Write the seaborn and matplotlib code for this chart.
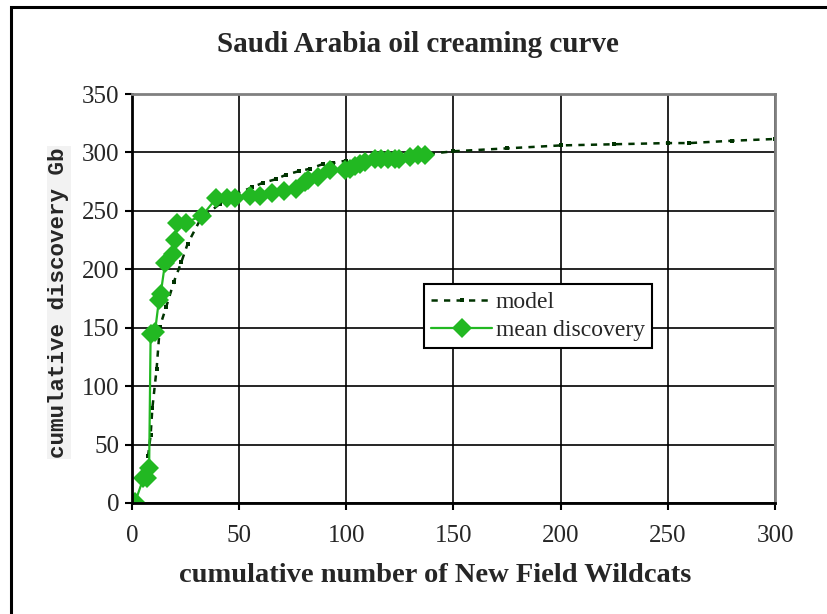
import numpy as np
import pandas as pd
import matplotlib
matplotlib.use("Agg")
import matplotlib.pyplot as plt
from matplotlib.patches import Rectangle
import seaborn as sns

# mean discovery (cumulative wildcats, cumulative Gb)
mean_x = [1.5, 5.3, 7.1, 8.0, 8.7, 10.7, 12.6, 13.4, 15.4, 19.0, 20.0, 21.1, 25.2,
          32.8, 39.4, 44.1, 48.0, 55.0, 59.6, 65.5, 70.8, 76.7, 80.6, 82.1, 86.8,
          92.5, 99.2, 101.5, 103.9, 106.2, 108.5, 113.2, 116.3, 119.4, 122.5,
          124.8, 129.5, 133.3, 136.5]
mean_y = [1, 21, 21, 30, 145, 146, 174, 179, 205, 213, 225, 240, 240,
          246, 261, 261, 261, 263, 263, 265, 267, 269, 275, 276, 279,
          285, 285, 286, 288, 290, 292, 294, 294, 294, 294,
          294, 296, 298, 298]

# model curve
model_x = [7.5, 8.7, 9.5, 11.5, 13, 16, 19.5, 23, 26, 32, 41, 49, 56, 61, 67, 72,
           78, 83, 89, 94, 100, 110, 120, 130, 140, 150, 175, 200, 225, 250, 260,
           280, 300]
model_y = [40, 58, 81, 115, 151, 168, 189, 206, 222, 243, 256, 265, 270, 274, 277, 281,
           284, 286, 290, 291, 293, 295, 297, 298, 299, 301, 303.5, 306, 307, 308, 308,
           310, 311.5]

x_ticks = [0, 50, 100, 150, 200, 250, 300]
y_ticks = [0, 50, 100, 150, 200, 250, 300, 350]

sns.set_style("white")
plt.rcParams["font.family"] = ["Liberation Serif", "DejaVu Serif"]

fig = plt.figure(figsize=(8.28, 6.14), dpi=100)
ax = fig.add_axes([0.1594, 0.1808, 0.7766, 0.6661])

model_df = pd.DataFrame({"x": model_x, "y": model_y})
mean_df = pd.DataFrame({"x": mean_x, "y": mean_y})

sns.lineplot(data=model_df, x="x", y="y", ax=ax, sort=False, estimator=None,
             color="#003300", lw=1.8, linestyle=(0, (2.5, 2.5)),
             marker="s", markersize=3, markeredgewidth=0, label="model")
sns.lineplot(data=mean_df, x="x", y="y", ax=ax, sort=False, estimator=None,
             color="#22b822", lw=1.6, marker="D", markersize=10,
             markeredgewidth=0, label="mean discovery")

ax.set_xlim(0, 300)
ax.set_ylim(0, 350)
ax.set_xticks(x_ticks)
ax.set_yticks(y_ticks)
ax.grid(True, color="black", lw=1.2)
ax.set_axisbelow(True)
for s in ["left", "bottom"]:
    ax.spines[s].set_color("black")
    ax.spines[s].set_linewidth(2)
for s in ["top", "right"]:
    ax.spines[s].set_color("#808080")
    ax.spines[s].set_linewidth(2)
ax.tick_params(axis="both", direction="out", length=5, width=1.5, color="black",
               labelsize=18, pad=4, left=True, bottom=True)
ax.tick_params(axis="x", pad=11)
ax.set_xlabel("")
ax.set_ylabel("")

leg = ax.legend(loc="upper left", bbox_to_anchor=(0.454, 0.535), fontsize=17,
                frameon=True, fancybox=False, framealpha=1, edgecolor="black",
                borderpad=0.3, labelspacing=0.3, handlelength=2.6, handletextpad=0.15,
                borderaxespad=0)
leg.get_frame().set_linewidth(1.5)

fig.text(0.505, 0.927, "Saudi Arabia oil creaming curve", ha="center", va="center",
         fontsize=21, fontweight="bold")
fig.text(0.525, 0.0635, "cumulative number of New Field Wildcats", ha="center",
         va="center", fontsize=20.5, fontweight="bold")
fig.text(0.071, 0.507, "cumulative discovery Gb", ha="center", va="center",
         rotation=90, fontsize=16.2, fontweight="bold",
         family=["Liberation Mono", "DejaVu Sans Mono"],
         bbox=dict(facecolor="#f2f2f2", edgecolor="none", pad=1))

# outer chart frame (clipped at right and bottom)
fig.patches.append(Rectangle((11 / 828, -0.1), 1.2, 1 - 7 / 614 + 0.1,
                             transform=fig.transFigure, fill=False,
                             edgecolor="black", lw=2.2, zorder=0))

fig.savefig("out.png", dpi=100)
